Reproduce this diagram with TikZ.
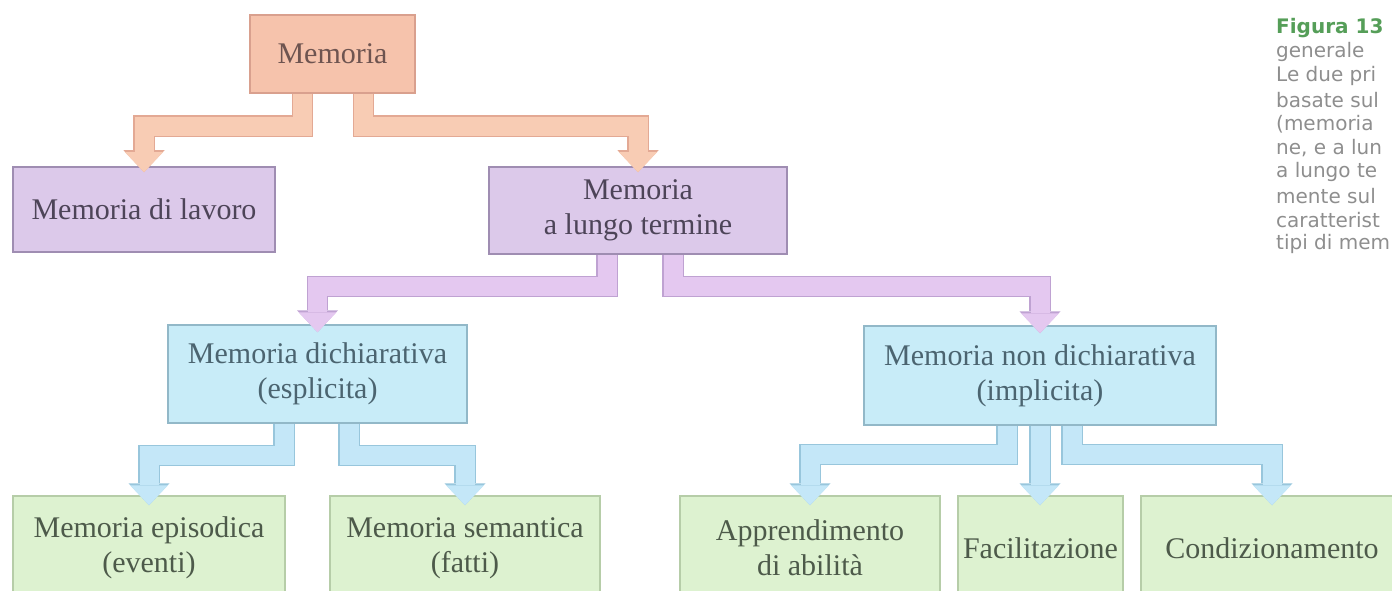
\documentclass[tikz,border=0pt]{standalone}
\usepackage{fontspec}
\setmainfont{Liberation Serif}
\newfontfamily\capfont{DejaVu Sans}
\usetikzlibrary{positioning,arrows.meta}

\definecolor{peachfill}{HTML}{F6C3AC}
\definecolor{peachedge}{HTML}{D9A08E}
\definecolor{peachtext}{HTML}{6E5450}
\definecolor{peachpipe}{HTML}{F8CCB4}
\definecolor{peachline}{HTML}{E3A994}
\definecolor{lavfill}{HTML}{DCC9EA}
\definecolor{lavedge}{HTML}{9F8DB2}
\definecolor{lavtext}{HTML}{4D4458}
\definecolor{lavpipe}{HTML}{E4C8F0}
\definecolor{lavline}{HTML}{BFA2D2}
\definecolor{cyanfill}{HTML}{C8ECF8}
\definecolor{cyanedge}{HTML}{92B8C8}
\definecolor{cyantext}{HTML}{4B6470}
\definecolor{cyanpipe}{HTML}{C4E7F8}
\definecolor{cyanline}{HTML}{98C6DC}
\definecolor{greenfill}{HTML}{DDF2D0}
\definecolor{greenedge}{HTML}{B6CDA8}
\definecolor{greentext}{HTML}{4D5A4A}
\definecolor{captext}{HTML}{8E8E8E}
\definecolor{capgreen}{HTML}{559E58}

\begin{document}
\begin{tikzpicture}[x=1pt,y=-1pt,
  box/.style={draw=#1edge,fill=#1fill,line width=1.5pt,text=#1text,align=center,
    inner sep=0pt,font=\fontsize{30}{35}\selectfont},
  pipe/.style={line width=19pt,draw=#1pipe,line join=miter,
    -{Triangle[width=38pt,length=20pt,line width=0pt]},
    preaction={draw=#1line,line width=21.5pt,line join=miter,
      -{Triangle[width=41pt,length=22pt,line width=0pt]}}},
  capline/.style={anchor=west,inner sep=0pt,text=captext,font=\capfont\fontsize{20}{24}\selectfont}]
\useasboundingbox (0,0) rectangle (1392,591);
\clip (0,0) rectangle (1392,591);

% boxes
\node[box=peach,minimum width=165pt,minimum height=78pt] (mem) at (332.5,54) {Memoria};
\node[box=lav,minimum width=262pt,minimum height=85pt] (lav) at (144,209.5) {Memoria di lavoro};
\node[box=lav,minimum width=298pt,minimum height=87pt] (lungo) at (638,210.5) {Memoria\\a lungo termine};
\node[box=cyan,minimum width=299pt,minimum height=98pt] (dich) at (317.5,374) {Memoria dichiarativa\\(esplicita)};
\node[box=cyan,minimum width=352pt,minimum height=99pt] (nondich) at (1040,375.5) {Memoria non dichiarativa\\(implicita)};
\node[box=green,minimum width=272pt,minimum height=104pt] (epis) at (149,548) {Memoria episodica\\(eventi)};
\node[box=green,minimum width=270pt,minimum height=104pt] (sem) at (465,548) {Memoria semantica\\(fatti)};
\node[box=green,minimum width=260pt,minimum height=104pt] (appr) at (810,548) {Apprendimento\\di abilità};
\node[box=green,minimum width=165pt,minimum height=104pt] (fac) at (1040.5,548) {Facilitazione};
\node[box=green,minimum width=262pt,minimum height=104pt] (cond) at (1272,548) {Condizionamento};

% connectors
\draw[pipe=peach] ([xshift=-30pt]mem.south) |- ([yshift=40pt]lav.north) -- ([yshift=-6pt]lav.north);
\draw[pipe=peach] ([xshift=31pt]mem.south) |- ([yshift=40pt]lungo.north) -- ([yshift=-6pt]lungo.north);
\draw[pipe=lav] ([xshift=-31pt]lungo.south) |- ([yshift=38pt]dich.north) -- ([yshift=-8pt]dich.north);
\draw[pipe=lav] ([xshift=35pt]lungo.south) |- ([yshift=39pt]nondich.north) -- ([yshift=-8pt]nondich.north);
\draw[pipe=cyan] ([xshift=-33.5pt]dich.south) |- ([yshift=40pt]epis.north) -- ([yshift=-10pt]epis.north);
\draw[pipe=cyan] ([xshift=31.5pt]dich.south) |- ([yshift=40pt]sem.north) -- ([yshift=-10pt]sem.north);
\draw[pipe=cyan] ([xshift=-33pt]nondich.south) |- ([yshift=41pt]appr.north) -- ([yshift=-10pt]appr.north);
\draw[pipe=cyan] (nondich.south) -- ([yshift=-10pt]nondich.south |- fac.north);
\draw[pipe=cyan] ([xshift=32pt]nondich.south) |- ([yshift=41pt]cond.north) -- ([yshift=-10pt]cond.north);

% caption, cut at the right edge
\node[capline,text=capgreen,font=\capfont\bfseries\fontsize{20}{24}\selectfont] (cap0) at (1276,28) {Figura 13};
\foreach \txt [count=\i] in {generale,Le due pri,basate sul,{(memoria},{ne, e a lun},a lungo te,mente sul,caratterist,tipi di mem}
  \node[capline] (cap\i) at (1276,28+24*\i) {\txt};
\end{tikzpicture}
\end{document}
